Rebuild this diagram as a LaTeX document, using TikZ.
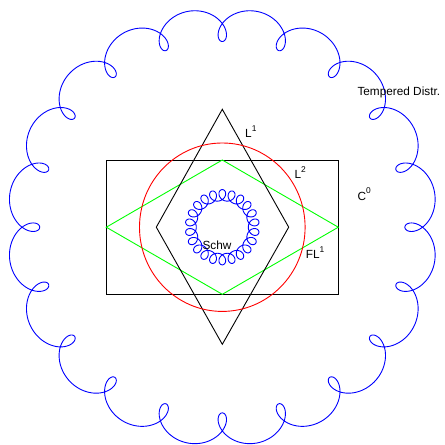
\documentclass[tikz,border=0pt]{standalone}
\usepackage{fontspec}
\setmainfont{Liberation Sans}
\newcommand{\supr}[1]{\raisebox{6.3pt}{\fontsize{8.4}{10}\selectfont #1}}
\begin{document}
\begin{tikzpicture}[x=1pt,y=-1pt,
  outl/.style={line width=0.9pt},
  lbl/.style={inner sep=0pt,anchor=base west,font=\fontsize{11.8}{14}\selectfont}]
\useasboundingbox (0,0) rectangle (445,445);
% black rectangle
\draw[outl,black] (106.3,160) rectangle (338.3,294.3);
% green diamond
\draw[outl,green] (106.3,227.2) -- (222.3,160) -- (338.3,227.2) -- (222.3,294.3) -- cycle;
% black diamond
\draw[outl,black] (222.3,109.3) -- (288.7,227.2) -- (222.3,344.3) -- (156.3,227.2) -- cycle;
\begin{scope}[shift={(222.3,227.2)},yscale=1.017]
  \draw[outl,red] (0,0) circle (82.8);
  \draw[outl,blue] plot[domain=0:360,samples=2400,smooth,variable=\t]
    ({198.8*cos(\t)-16.2*cos(21*\t)},{198.8*sin(\t)-16.2*sin(21*\t)}) -- cycle;
  \draw[outl,blue] plot[domain=0:360,samples=1600,smooth,variable=\t]
    ({31.5*cos(\t)-5.5*cos(21*\t)},{31.5*sin(\t)+5.5*sin(21*\t)}) -- cycle;
\end{scope}
\node[lbl] (temp) at (357.3,95.7) {Tempered Distr.};
\node[lbl] (l1) at (245,137.7) {L\supr{1}};
\node[lbl] (l2) at (294.3,178.3) {L\supr{2}};
\node[lbl] (c0) at (357.3,200) {C\supr{0}};
\node[lbl] (fl1) at (305.7,258.7) {FL\supr{1}};
\node[lbl] (schw) at (202.3,249.3) {Schw};
\end{tikzpicture}
\end{document}
